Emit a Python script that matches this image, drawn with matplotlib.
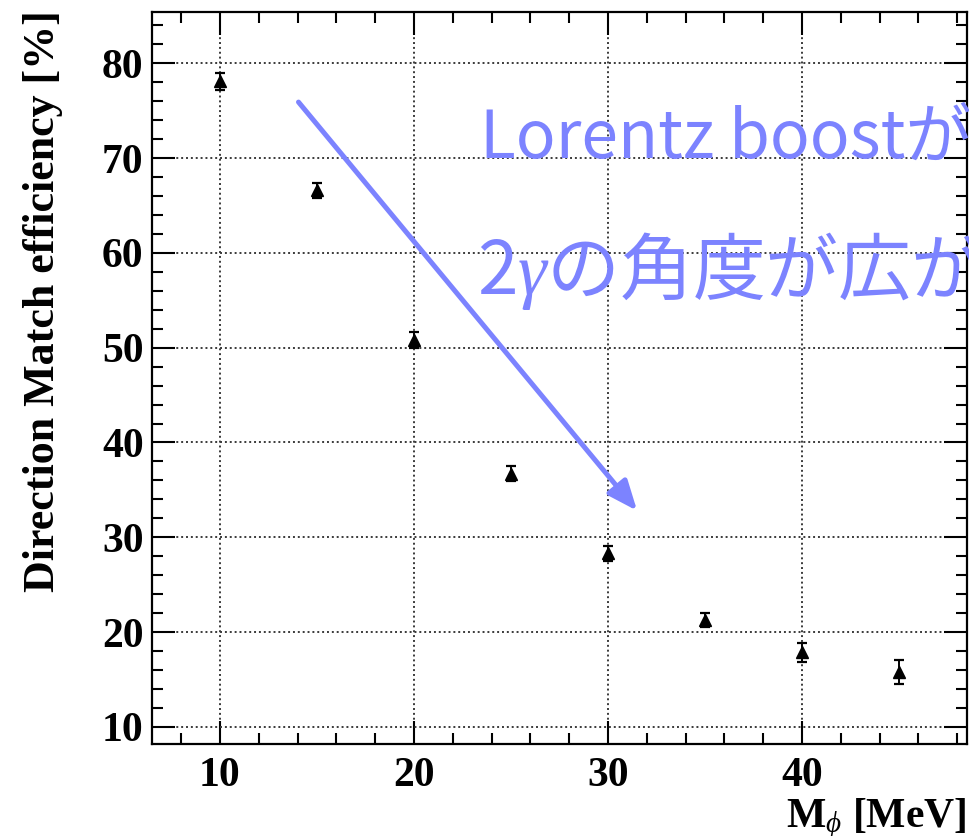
import matplotlib
matplotlib.use("Agg")
import matplotlib.pyplot as plt
from matplotlib.ticker import MultipleLocator

# Direction match efficiency vs. dark scalar mass
masses = [10, 15, 20, 25, 30, 35, 40, 45]
efficiency = [78.1, 66.6, 50.8, 36.7, 28.3, 21.3, 17.9, 15.8]
eff_err = [0.9, 0.8, 0.8, 0.8, 0.8, 0.75, 1.0, 1.25]

x_ticks = [10, 20, 30, 40]
y_ticks = [10, 20, 30, 40, 50, 60, 70, 80]

note_lines = ["Lorentz boostが", "2$\\gamma$の角度が広が"]
note_color = "#7c83ff"

plt.rcParams["font.family"] = ["Liberation Serif"]
plt.rcParams["font.weight"] = "bold"
plt.rcParams["mathtext.fontset"] = "custom"
plt.rcParams["mathtext.rm"] = "Liberation Serif:bold"
plt.rcParams["mathtext.bf"] = "Liberation Serif:bold"
plt.rcParams["mathtext.it"] = "Liberation Serif:style=italic:weight=normal"

W, H = 969, 836
fig = plt.figure(figsize=(W / 100, H / 100), dpi=100)
ax = fig.add_axes([152 / W, (H - 744) / H, (967 - 152) / W, (744 - 12) / H])

ax.errorbar(masses, efficiency, yerr=eff_err, fmt="^", color="black",
            ms=9, elinewidth=1.4, capsize=3.5, capthick=1.6, zorder=3)

ax.set_xlim(6.5, 48.5)
ax.set_ylim(8.2, 85.4)
ax.set_xticks(x_ticks)
ax.set_yticks(y_ticks)
ax.xaxis.set_minor_locator(MultipleLocator(2))
ax.yaxis.set_minor_locator(MultipleLocator(2))

ax.grid(True, which="major", color="#3a3a3a", linestyle=(0, (1, 1.5)), lw=1.4)
ax.tick_params(which="both", direction="in", top=True, right=True, width=1.5)
ax.tick_params(which="major", length=16.5, labelsize=30)
ax.tick_params(which="minor", length=8)
ax.tick_params(axis="y", pad=6)
ax.tick_params(axis="x", pad=9)
for spine in ax.spines.values():
    spine.set_linewidth(1.6)

fig.text(43 / W, 1 - 10 / H, "Direction Match efficiency [%]", rotation=90,
         ha="center", va="top", fontsize=31.7, fontweight="bold")
fig.text(966 / W, 1 - 827 / H, "M$_{\\phi}$ [MeV]", ha="right", va="baseline",
         fontsize=30, fontweight="bold")

# arrow and note about the opening angle
ax.annotate("", xy=(31.5, 32.8), xytext=(14.05, 75.9),
            arrowprops=dict(arrowstyle="-|>,head_length=1.8,head_width=0.75",
                            mutation_scale=10, lw=3.6, color=note_color,
                            shrinkA=0, shrinkB=0))
fig.text(480 / W, 1 - 158 / H, note_lines[0], color=note_color, fontsize=47.5,
         fontweight="normal", family=["Noto Sans CJK JP", "DejaVu Sans"],
         ha="left", va="baseline")
fig.text(477 / W, 1 - 294 / H, note_lines[1], color=note_color, fontsize=52.5,
         fontweight="normal", family=["Noto Sans CJK JP", "DejaVu Sans"],
         ha="left", va="baseline")

fig.savefig("out.png", dpi=100)
